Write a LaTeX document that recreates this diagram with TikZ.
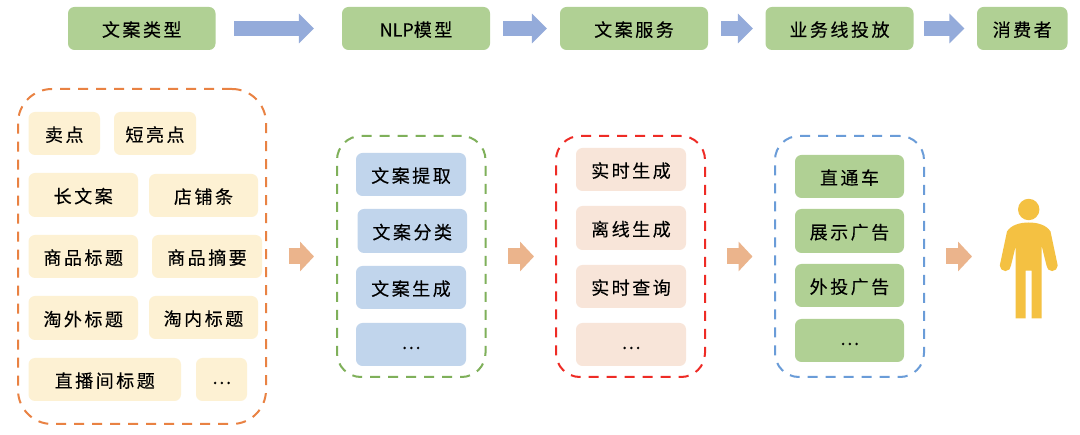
\documentclass[tikz,border=0pt]{standalone}
\usepackage{fontspec}
\setmainfont{Noto Sans CJK SC}[LetterSpace=14,FakeBold=0.25]
\newfontfamily\tightfont{Noto Sans CJK SC}[FakeBold=0.25]
\usepackage{xcolor}
\usetikzlibrary{arrows.meta}

\definecolor{headgreen}{HTML}{B0D094}
\definecolor{itemyellow}{HTML}{FDF1D3}
\definecolor{itemblue}{HTML}{C1D5EC}
\definecolor{itempeach}{HTML}{F8E5D9}
\definecolor{flowblue}{HTML}{94ABDA}
\definecolor{floworange}{HTML}{EBB48C}
\definecolor{frameorange}{HTML}{E98243}
\definecolor{framegreen}{HTML}{7FB05A}
\definecolor{framered}{HTML}{EE2B25}
\definecolor{frameblue}{HTML}{6A9CD8}
\definecolor{personyellow}{HTML}{F4C142}

\newcommand{\moredots}{\raisebox{3.5pt}{…}}

\tikzset{
    itembox/.style={rounded corners=6.5pt, inner sep=0pt, text height=18pt, text depth=2pt,
        font=\fontsize{18}{20}\selectfont},
    groupframe/.style={dash pattern=on 10pt off 8pt, line width=2pt, inner sep=0pt},
    flowarrow/.style={line width=15pt, flowblue, -{Triangle[length=15pt,width=29pt]}},
    steparrow/.style={line width=16pt, floworange, -{Triangle[length=14pt,width=29pt]}}
}

\begin{document}
\begin{tikzpicture}[x=1pt,y=-1pt]
    \useasboundingbox (0,0) rectangle (1080,435);
    \fill[white] (0,0) rectangle (1080,435);

    % Top row
    \foreach \id/\xa/\xb/\txt in {typebox/68/215.5/文案类型, nlpbox/342/490/{\tightfont NLP}模型,
        servicebox/560/708/文案服务, linebox/765.5/913.5/业务线投放, userbox/977/1067.5/消费者} {
        \node[itembox, fill=headgreen, minimum width={(\xb-\xa)*1pt}, minimum height=43pt]
            (\id) at ({(\xa+\xb)/2},28.5) {\txt};
    }

    % Top row arrows
    \foreach \from/\to/\sa/\sb in {typebox/nlpbox/18.5/28, nlpbox/servicebox/13/13,
        servicebox/linebox/13/12.5, linebox/userbox/10.5/12.5} {
        \draw[flowarrow, shorten <=\sa pt, shorten >=\sb pt] (\from) -- (\to);
    }

    % Dashed groups
    \foreach \id/\xa/\ya/\xb/\yb/\col/\rad in {typeframe/18/89/266/424/frameorange/34,
        nlpframe/337/136/485.5/377/framegreen/24, serviceframe/556/136/705/377/framered/24,
        lineframe/775/136/924/377/frameblue/24} {
        \node[groupframe, draw=\col, rounded corners=\rad pt, minimum width={(\xb-\xa)*1pt},
            minimum height={(\yb-\ya)*1pt}] (\id) at ({(\xa+\xb)/2},{(\ya+\yb)/2}) {};
    }

    % Copy types
    \foreach \id/\xa/\ya/\xb/\yb/\txt in {sellbox/28.5/112/100/155/卖点, shortbox/114/112/196/155/短亮点,
        longbox/28.5/173/138/217/长文案, shopbox/149/174/258/217/店铺条,
        titlebox/28.5/235/138/278/商品标题, digestbox/152/235/262/278/商品摘要,
        outerbox/28.5/296/138/340/淘外标题, innerbox/149/296/258/339/淘内标题,
        livebox/28.5/358/181/401/直播间标题, typemore/196/358/247/401/\moredots} {
        \node[itembox, fill=itemyellow, minimum width={(\xb-\xa)*1pt}, minimum height={(\yb-\ya)*1pt}]
            (\id) at ({(\xa+\xb)/2},{(\ya+\yb)/2}) {\txt};
    }

    % NLP tasks
    \foreach \id/\xa/\ya/\xb/\yb/\txt in {extractbox/356/153/466/196/文案提取, classbox/357.5/209/467/253/文案分类,
        genbox/356/266/466/309/文案生成, nlpmore/356/323/466/366/\moredots} {
        \node[itembox, fill=itemblue, minimum width={(\xb-\xa)*1pt}, minimum height={(\yb-\ya)*1pt}]
            (\id) at ({(\xa+\xb)/2},{(\ya+\yb)/2}) {\txt};
    }

    % Services
    \foreach \id/\ya/\yb/\txt in {onlinebox/148/191/实时生成, offlinebox/206/250/离线生成,
        querybox/265/308/实时查询, servicemore/323/366/\moredots} {
        \node[itembox, fill=itempeach, minimum width=110pt, minimum height={(\yb-\ya)*1pt}]
            (\id) at (631,{(\ya+\yb)/2}) {\txt};
    }

    % Business lines
    \foreach \id/\ya/\yb/\txt in {trainbox/155/198/直通车, showbox/209/253/展示广告,
        adbox/264/307/外投广告, linemore/319/362/\moredots} {
        \node[itembox, fill=headgreen, minimum width=109pt, minimum height={(\yb-\ya)*1pt}]
            (\id) at (849.5,{(\ya+\yb)/2}) {\txt};
    }

    % Consumer
    \coordinate (person) at (1000,256.5);
    \fill[personyellow] (1028.7,209.5) circle (10.7);
    \fill[personyellow] (1028.7,222.5) .. controls (1020,222.5) and (1011,225) .. (1007,231.5)
        -- (999.8,265.5) arc[start angle=180, end angle=0, radius=5.6]
        -- (1015.7,246) -- (1015.7,318.5) -- (1025.7,318.5) -- (1025.7,270.7) -- (1031.7,270.7) -- (1031.7,318.5)
        -- (1041.7,318.5) -- (1041.7,246) -- (1046.5,265.5) arc[start angle=180, end angle=0, radius=5.6]
        -- (1050.5,231.5) .. controls (1046.5,225) and (1037.5,222.5) .. (1028.7,222.5) -- cycle;

    % Bottom row arrows
    \foreach \from/\to/\sa/\sb in {typeframe/nlpframe/21.5/22, nlpframe/serviceframe/21.5/21,
        serviceframe/lineframe/21/21.5, lineframe/person/21/28} {
        \draw[steparrow, shorten <=\sa pt, shorten >=\sb pt] (\from) -- (\to);
    }
\end{tikzpicture}
\end{document}
